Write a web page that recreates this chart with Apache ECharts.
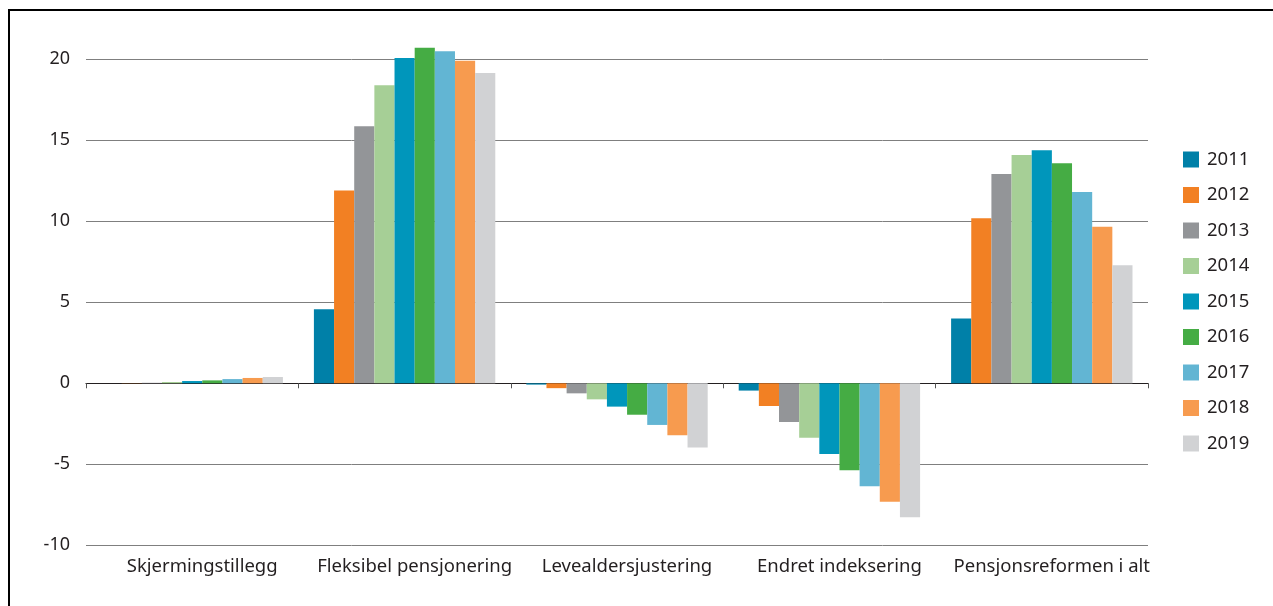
<!DOCTYPE html>
<html><head><meta charset="utf-8">
<script src="https://cdn.jsdelivr.net/npm/echarts@6/dist/echarts.min.js"></script>
<style>html,body{margin:0;padding:0;background:#fff}#c{width:1273px;height:606px}</style>
</head><body><div id="c"></div>
<script>
const categories = ['Skjermingstillegg','Fleksibel pensjonering','Levealdersjustering','Endret indeksering','Pensjonsreformen i alt'];
const years = ['2011','2012','2013','2014','2015','2016','2017','2018','2019'];
const colors = ['#0080a8','#f28023','#939598','#a6cf96','#0096bb','#45ac44','#62b5d3','#f79b4f','#d1d2d4'];
const v2011 = [0.0, 4.57, -0.08, -0.45, 4.0];
const v2012 = [0.01, 11.9, -0.3, -1.4, 10.19];
const v2013 = [0.03, 15.86, -0.62, -2.39, 12.92];
const v2014 = [0.08, 18.4, -0.99, -3.36, 14.09];
const v2015 = [0.14, 20.08, -1.44, -4.36, 14.38];
const v2016 = [0.18, 20.72, -1.94, -5.37, 13.58];
const v2017 = [0.26, 20.49, -2.57, -6.36, 11.81];
const v2018 = [0.33, 19.91, -3.21, -7.31, 9.67];
const v2019 = [0.39, 19.15, -3.97, -8.27, 7.28];
const values = [v2011,v2012,v2013,v2014,v2015,v2016,v2017,v2018,v2019];

const font = 'Noto Sans';
const chart = echarts.init(document.getElementById('c'));
chart.setOption({
  animation: false,
  color: colors,
  textStyle: {fontFamily: font},
  graphic: [
    {type:'line', shape:{x1:8, y1:10, x2:1273, y2:10}, style:{stroke:'#000', lineWidth:2}, silent:true},
    {type:'line', shape:{x1:9, y1:9, x2:9, y2:606}, style:{stroke:'#000', lineWidth:2}, silent:true}
  ],
  legend: {
    orient:'vertical', left:1178, top:145, itemWidth:16, itemHeight:16, itemGap:16.5,
    icon:'rect', data: years,
    textStyle:{fontSize:18.5, color:'#231f20', fontFamily:font, padding:[0,0,0,3]}
  },
  grid: {left:86, right:125, top:59.3, bottom:60.7, containLabel:false},
  xAxis: [
    {type:'category', data:categories, axisLine:{onZero:true, lineStyle:{color:'#231f20', width:1.2}},
     axisTick:{show:true, length:5, lineStyle:{color:'#555'}}, axisLabel:{show:false}},
    {type:'category', data:categories, position:'bottom', axisLine:{show:false, onZero:false}, axisTick:{show:false},
     axisLabel:{interval:0, fontSize:18.5, color:'#231f20', margin:12, fontFamily:font, padding:[0,0,0,20]}}
  ],
  yAxis: {type:'value', min:-10, max:20, interval:5,
    axisLine:{show:false}, axisTick:{show:false},
    axisLabel:{fontSize:18, color:'#231f20', margin:16, fontFamily:font},
    splitLine:{lineStyle:{color:'#7f7f7f', width:1}}},
  series: years.map((y,i)=>({
    name:y, type:'bar', xAxisIndex:0, data: values[i], barGap:0, barCategoryGap:'14.6%', clip:false
  }))
});
</script></body></html>
